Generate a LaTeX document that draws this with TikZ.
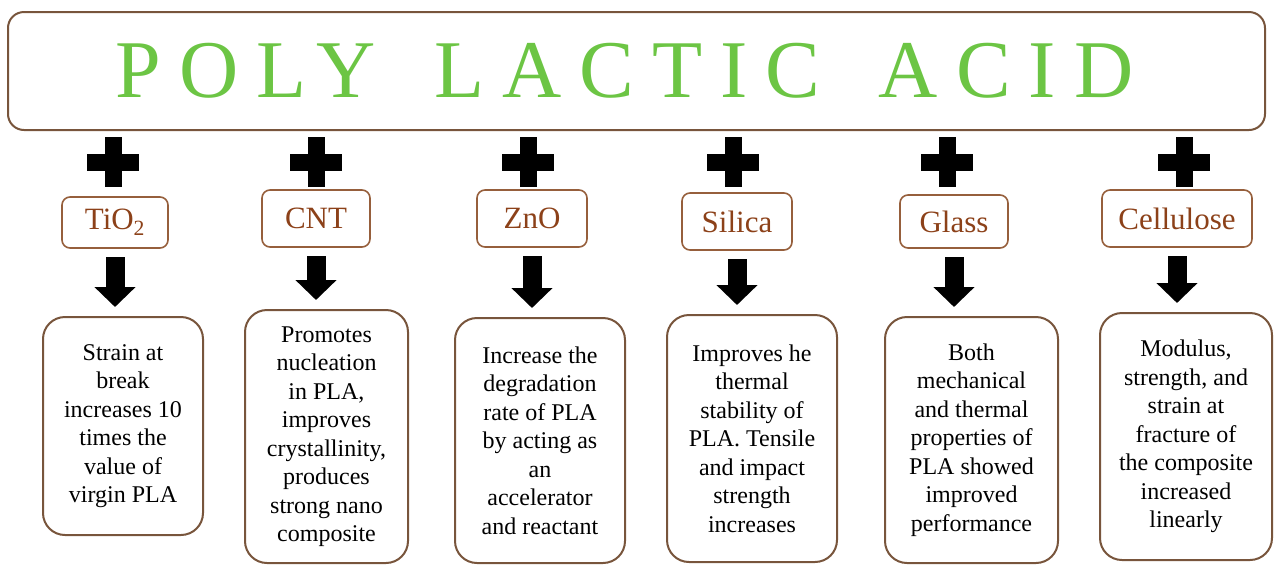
\documentclass[tikz,border=0pt]{standalone}
\usepackage{fontspec}
\setmainfont{Liberation Serif}
\usetikzlibrary{arrows.meta}
\definecolor{titlegreen}{RGB}{108,197,68}
\definecolor{framebrown}{RGB}{120,85,60}
\definecolor{labeltext}{RGB}{140,65,25}
\definecolor{labelframe}{RGB}{150,95,60}
\newcommand\plussign[1]{%
  \fill[black] (#1) +(-26,-8.5) rectangle +(26,8.5);
  \fill[black] (#1) +(-8.5,-25) rectangle +(8.5,25);}
\begin{document}
\begin{tikzpicture}[x=1pt,y=-1pt,
  titlebox/.style={draw=framebrown, line width=2pt, rounded corners=16pt, inner sep=0pt, outer sep=0pt, text=titlegreen,
    font=\fontsize{82}{90}\selectfont\addfontfeature{LetterSpace=22}},
  tag/.style={draw=labelframe, line width=1.6pt, rounded corners=8pt, text=labeltext,
    font=\fontsize{31}{36}\selectfont, inner sep=0pt, outer sep=0pt},
  info/.style={draw=framebrown, line width=2pt, rounded corners=22pt, align=center,
    font=\fontsize{24}{28.5}\selectfont, inner sep=0pt, outer sep=0pt},
  bigarrow/.style={line width=19pt, -{Triangle[width=40pt,length=20pt]}, shorten <=9pt, shorten >=10pt}
]
\useasboundingbox (0,0) rectangle (1275,566);

\node[titlebox, minimum width=1257pt, minimum height=118pt] (title) at (636.5,71)
  {POLY\hspace{20pt} LACTIC\hspace{20pt} ACID\kern24pt\null};

\node[tag, minimum width=106pt, minimum height=51pt] (l1) at (115,222.5) {TiO\textsubscript{2}};
\node[tag, minimum width=108pt, minimum height=57pt] (l2) at (316,218.5) {CNT};
\node[tag, minimum width=110pt, minimum height=57pt] (l3) at (532,218.5) {ZnO};
\node[tag, minimum width=110pt, minimum height=57pt] (l4) at (737,221.5) {Silica};
\node[tag, minimum width=108pt, minimum height=53pt] (l5) at (954,221.5) {Glass};
\node[tag, minimum width=150pt, minimum height=57pt] (l6) at (1177,218.5) {Cellulose};

\coordinate (p1) at (113,162);
\coordinate (p2) at (316,162);
\coordinate (p3) at (528,162);
\coordinate (p4) at (733,162);
\coordinate (p5) at (947,162);
\coordinate (p6) at (1184,162);
\plussign{p1}\plussign{p2}\plussign{p3}\plussign{p4}\plussign{p5}\plussign{p6}

\node[info, minimum width=160pt, minimum height=218pt] (b1) at (123,426)
  {Strain at\\break\\increases 10\\times the\\value of\\virgin PLA};
\node[info, minimum width=163pt, minimum height=253pt] (b2) at (326.5,436.5)
  {Promotes\\nucleation\\in PLA,\\improves\\crystallinity,\\produces\\strong nano\\composite};
\node[info, minimum width=170pt, minimum height=245pt] (b3) at (540,440.5)
  {Increase the\\degradation\\rate of PLA\\by acting as\\an\\accelerator\\and reactant};
\node[info, minimum width=170pt, minimum height=247pt] (b4) at (752,438.5)
  {Improves he\\thermal\\stability of\\PLA. Tensile\\and impact\\strength\\increases};
\node[info, minimum width=173pt, minimum height=246pt] (b5) at (971.5,440)
  {Both\\mechanical\\and thermal\\properties of\\PLA showed\\improved\\performance};
\node[info, minimum width=172pt, minimum height=247pt] (b6) at (1186,436.5)
  {Modulus,\\strength, and\\strain at\\fracture of\\the composite\\increased\\linearly};

\foreach \i in {1,...,6} {
  \draw[bigarrow] (l\i.south) -- (l\i.south |- b\i.north);
}
\end{tikzpicture}
\end{document}
